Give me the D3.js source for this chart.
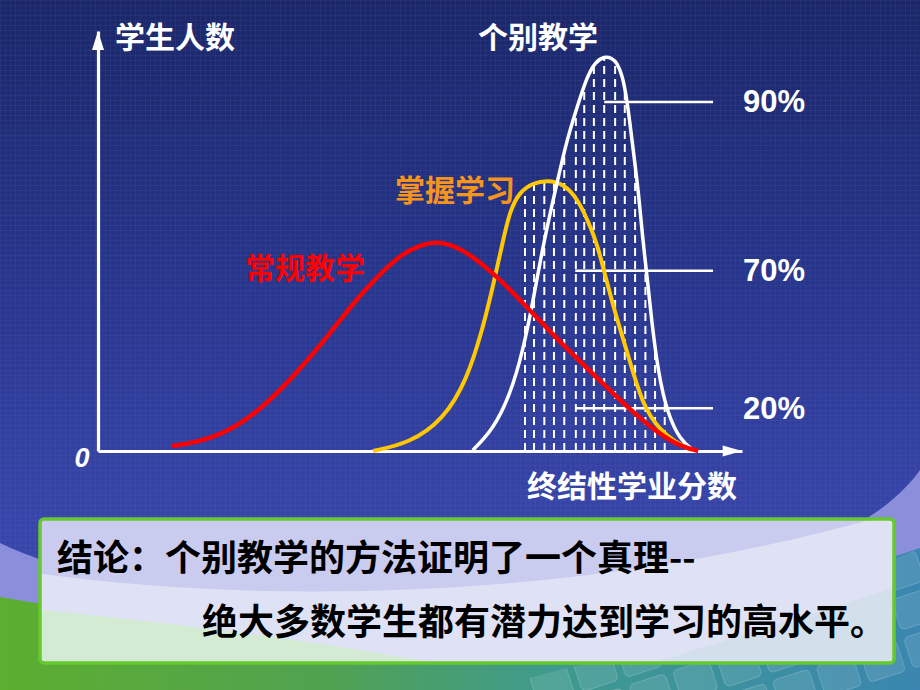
<!DOCTYPE html>
<html><head><meta charset="utf-8">
<script src="https://cdn.jsdelivr.net/npm/d3@7"></script>
<style>html,body{margin:0;padding:0;background:#1d2a6c;}svg{display:block}</style>
</head><body><svg id="c" width="920" height="690"></svg>
<script>
// ---- data (score 0-100 on x, relative number of students 0-100 on y) ----
const seriesNames = ["常规教学", "掌握学习", "个别教学"];
const conventionalX = [11.5, 14.8, 20.0, 25.2, 30.3, 35.6, 39.6, 43.3, 46.9, 50.0, 52.6, 56.2, 61.3, 66.6, 71.7, 76.9, 82.1, 87.3, 90.4, 93.2];
const conventionalY = [1.2, 1.9, 4.3, 9.8, 17.6, 27.1, 35.2, 41.4, 46.7, 49.0, 50.0, 48.6, 42.6, 34.3, 26.0, 18.3, 10.5, 3.8, 1.2, 0.0];
const masteryX = [42.7, 48.4, 53.6, 57.3, 59.8, 61.3, 62.9, 64.0, 65.5, 67.5, 69.9, 72.2, 74.4, 76.9, 77.9, 80.0, 82.1, 84.6, 87.3, 89.6, 92.2];
const masteryY = [0.0, 1.9, 7.4, 16.9, 29.5, 39.0, 50.2, 57.4, 61.7, 63.8, 64.5, 63.6, 60.5, 51.9, 47.1, 34.3, 24.0, 10.5, 5.0, 2.1, 0.2];
const individualX = [58.2, 61.3, 64.0, 66.0, 67.5, 69.1, 71.3, 72.8, 74.4, 75.9, 77.2, 78.6, 79.8, 80.6, 81.4, 82.1, 83.1, 83.9, 84.6, 85.2, 86.0, 87.0, 88.4, 90.4, 92.4];
const individualY = [0.2, 5.0, 13.3, 24.0, 35.2, 49.0, 64.0, 74.0, 81.9, 89.0, 92.6, 94.0, 93.6, 92.4, 89.5, 84.3, 71.7, 62.1, 50.2, 42.4, 30.5, 18.6, 9.0, 2.6, 0.2];
const hatchX = [66.3, 67.7, 69.3, 70.8, 72.4, 74.2, 75.5, 77.0, 78.6, 80.3, 81.8, 83.4, 85.0, 86.5, 88.0];
const levelLabels = ["90%", "70%", "20%"];
const levelY = [83.1, 42.9, 10.2];
const levelStartX = [78.6, 74.1, 74.1];
const levelEndX = 95.5;
const axisTitles = ["学生人数", "终结性学业分数"];
const originLabel = "0";
const conclusion = ["结论：个别教学的方法证明了一个真理--", "绝大多数学生都有潜力达到学习的高水平。"];

const svg = d3.select("#c");
const W = 920, H = 690;
const defs = svg.append("defs");

// ---- background ----
const bg = defs.append("linearGradient").attr("id", "bg").attr("x1", 0).attr("y1", 0).attr("x2", 0).attr("y2", 1);
bg.append("stop").attr("offset", 0).attr("stop-color", "#1b2767");
bg.append("stop").attr("offset", 0.45).attr("stop-color", "#29378f");
bg.append("stop").attr("offset", 0.75).attr("stop-color", "#3845a8");
bg.append("stop").attr("offset", 1).attr("stop-color", "#3c49ae");
svg.append("rect").attr("width", W).attr("height", H).attr("fill", "url(#bg)");
const pat = defs.append("pattern").attr("id", "grid").attr("width", 5).attr("height", 5).attr("patternUnits", "userSpaceOnUse");
pat.append("path").attr("d", "M5 0 L0 0 0 5").attr("fill", "none").attr("stroke", "rgba(140,150,255,0.13)").attr("stroke-width", 1);
svg.append("rect").attr("width", W).attr("height", H).attr("fill", "url(#grid)");

// lavender arc
svg.append("path").attr("d", "M0,543 C200,640 800,640 920,470 L920,690 L0,690 Z").attr("fill", "#8a8edb");
// green / teal bottom band
const gb = defs.append("linearGradient").attr("id", "gb").attr("x1", 0).attr("y1", 0).attr("x2", 1).attr("y2", 0);
gb.append("stop").attr("offset", 0).attr("stop-color", "#5cae30");
gb.append("stop").attr("offset", 0.35).attr("stop-color", "#51a250");
gb.append("stop").attr("offset", 0.6).attr("stop-color", "#3f9a8e");
gb.append("stop").attr("offset", 1).attr("stop-color", "#3a86b0");
svg.append("path").attr("d", "M0,597 C300,650 650,640 920,548 L920,690 L0,690 Z").attr("fill", "url(#gb)");
// keyboard keys (texture)
defs.append("clipPath").attr("id", "kbclip").append("path").attr("d", "M480,690 C650,650 800,600 920,548 L920,690 Z");
const kb = svg.append("g").attr("clip-path", "url(#kbclip)").append("g").attr("transform", "rotate(-18 700 620)");
for (let i = 0; i < 9; i++) for (let j = 0; j < 5; j++) {
  kb.append("rect").attr("x", 520 + i * 46).attr("y", 540 + j * 40).attr("width", 38).attr("height", 32).attr("rx", 5)
    .attr("fill", "rgba(255,255,255,0.10)").attr("stroke", "rgba(255,255,255,0.18)");
}

// ---- chart ----
const x = d3.scaleLinear().domain([0, 100]).range([98, 742]);
const y = d3.scaleLinear().domain([0, 100]).range([451, 31]);
const zip = (xs, ys) => xs.map((v, i) => [v, ys[i]]);
const conventional = zip(conventionalX, conventionalY);
const mastery = zip(masteryX, masteryY);
const individual = zip(individualX, individualY);
const curve = d3.curveBasis;
const line = d3.line().x(d => x(d[0])).y(d => y(d[1])).curve(curve);
const area = d3.area().x(d => x(d[0])).y0(y(0)).y1(d => y(d[1])).curve(curve);

// hatch clip = union of mastery and individual areas
const cp = defs.append("clipPath").attr("id", "hatchclip");
cp.append("path").attr("d", area(mastery));
cp.append("path").attr("d", area(individual));
svg.append("g").attr("clip-path", "url(#hatchclip)").selectAll("line").data(hatchX).join("line")
  .attr("x1", d => x(d)).attr("x2", d => x(d)).attr("y1", y(0)).attr("y2", y(100))
  .attr("stroke", "#fff").attr("stroke-width", 2).attr("stroke-dasharray", "8,5");

// level lines
svg.append("g").selectAll("line").data(levelY).join("line")
  .attr("x1", (d, i) => x(levelStartX[i])).attr("x2", x(levelEndX))
  .attr("y1", d => y(d)).attr("y2", d => y(d))
  .attr("stroke", "#fff").attr("stroke-width", 2.5);
svg.append("g").selectAll("text").data(levelLabels).join("text")
  .attr("x", x(levelEndX) + 30).attr("y", (d, i) => y(levelY[i]))
  .attr("dominant-baseline", "central")
  .attr("font-family", "'Liberation Sans', Arial, sans-serif").attr("font-weight", "bold").attr("font-size", 31)
  .attr("fill", "#fff").text(d => d);

// axes
const xAxis = svg.append("g").attr("transform", `translate(0,${y(0)})`)
  .call(d3.axisBottom(x).tickValues([]).tickSizeOuter(0));
const yAxis = svg.append("g").attr("transform", `translate(${x(0)},0)`)
  .call(d3.axisLeft(y).tickValues([]).tickSizeOuter(0));
[xAxis, yAxis].forEach(g => g.select(".domain").attr("stroke", "#fff").attr("stroke-width", 3.2));
svg.append("path").attr("fill", "#fff")
  .attr("d", `M${x(100)},${y(0)} L${x(97)},${y(0) - 5.5} L${x(97)},${y(0) + 5.5} Z`);
svg.append("path").attr("fill", "#fff")
  .attr("d", `M${x(0)},${y(100)} L${x(0) - 6},${y(95.5)} L${x(0) + 6},${y(95.5)} Z`);

// curves: mastery, individual, conventional (top)
svg.append("path").attr("d", line(mastery)).attr("fill", "none").attr("stroke", "#ffc800").attr("stroke-width", 4);
svg.append("path").attr("d", line(individual)).attr("fill", "none").attr("stroke", "#ffffff").attr("stroke-width", 3.5);
svg.append("path").attr("d", line(conventional)).attr("fill", "none").attr("stroke", "#ff0000").attr("stroke-width", 4.5);

// labels
const cjk = "'Noto Sans CJK SC', 'Noto Sans', sans-serif";
function label(txt, cx, cy, color, size) {
  svg.append("text").attr("x", cx).attr("y", cy).attr("text-anchor", "middle").attr("dominant-baseline", "central")
    .attr("font-family", cjk).attr("font-weight", "bold").attr("font-size", size).attr("fill", color).text(txt);
}
label(axisTitles[0], 175, 35, "#fff", 30);
label(axisTitles[1], 632, 484, "#fff", 30);
label(seriesNames[2], 538, 35, "#fff", 30);
label(seriesNames[1], 455, 188, "#f7941d", 30);
label(seriesNames[0], 305, 266, "#ff0000", 30);
svg.append("text").attr("x", 82).attr("y", 458).attr("text-anchor", "middle").attr("dominant-baseline", "central")
  .attr("font-family", "'Liberation Sans', Arial, sans-serif").attr("font-style", "italic").attr("font-weight", "bold")
  .attr("font-size", 27).attr("fill", "#fff").text(originLabel);

// ---- conclusion box ----
const bx = 40, by = 519, bw = 854, bh = 144;
defs.append("clipPath").attr("id", "boxclip").append("rect").attr("x", bx).attr("y", by).attr("width", bw).attr("height", bh).attr("rx", 4);
const bgBox = svg.append("g").attr("clip-path", "url(#boxclip)");
bgBox.append("rect").attr("x", bx).attr("y", by).attr("width", bw).attr("height", bh).attr("fill", "#c9cbef");
bgBox.append("path").attr("d", "M0,568 C300,615 650,590 920,505 L920,690 L0,690 Z").attr("fill", "#dfe1f5");
bgBox.append("path").attr("d", "M0,606 C200,625 400,650 560,690 L0,690 Z").attr("fill", "#d3ebd3");
bgBox.append("path").attr("d", "M560,690 C700,650 820,610 920,580 L920,690 Z").attr("fill", "#cfe0e8").attr("opacity", 0.8);
svg.append("rect").attr("x", bx).attr("y", by).attr("width", bw).attr("height", bh).attr("rx", 4)
  .attr("fill", "none").attr("stroke", "#66c92e").attr("stroke-width", 3.5);
svg.append("text").attr("x", 57).attr("y", 555).attr("dominant-baseline", "central")
  .attr("font-family", cjk).attr("font-weight", "bold").attr("font-size", 36).attr("fill", "#000").text(conclusion[0]);
svg.append("text").attr("x", 202).attr("y", 619).attr("dominant-baseline", "central")
  .attr("font-family", cjk).attr("font-weight", "bold").attr("font-size", 36).attr("fill", "#000").text(conclusion[1]);
</script>
</body></html>
